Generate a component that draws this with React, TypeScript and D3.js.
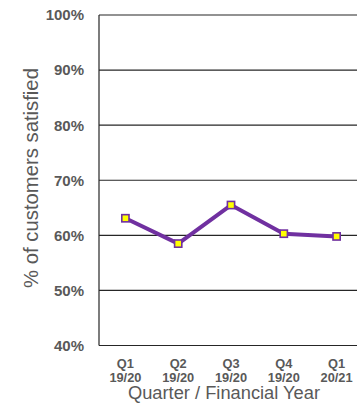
import React from "react";
import * as d3 from "d3";

const categories = ["Q1|19/20", "Q2|19/20", "Q3|19/20", "Q4|19/20", "Q1|20/21"];
const satisfied = [63.1, 58.5, 65.5, 60.3, 59.8];
const yTicks = [40, 50, 60, 70, 80, 90, 100];

const W = 357;
const H = 403;
const left = 99;
const right = 363;
const top = 15;
const bottom = 345.5;
const font = "'Liberation Sans', Arial, sans-serif";
const gray = "#595959";
const purple = "#7030A0";

export default function App() {
  const x = d3.scaleBand<string>().domain(categories).range([left, right]);
  const y = d3.scaleLinear().domain([40, 100]).range([bottom, top]);
  const line = d3
    .line<number>()
    .x((_, i) => (x(categories[i]) as number) + x.bandwidth() / 2)
    .y((d) => y(d));

  return (
    <svg
      width={W}
      height={H}
      style={{ position: "absolute", left: 0, top: 0, display: "block", background: "#fff" }}
    >
      {yTicks.map((t) => (
        <g key={t}>
          <line x1={left} x2={W} y1={y(t)} y2={y(t)} stroke="#262626" strokeWidth={1.2} />
          <text
            x={84}
            y={y(t)}
            dy="0.36em"
            textAnchor="end"
            fontFamily={font}
            fontSize={15}
            fontWeight="bold"
            fill={gray}
          >
            {t}%
          </text>
        </g>
      ))}
      <line x1={left} x2={left} y1={top} y2={bottom} stroke="#262626" strokeWidth={1.2} />
      {categories.map((c) => {
        const [q, fy] = c.split("|");
        const cx = (x(c) as number) + x.bandwidth() / 2;
        return (
          <text
            key={c}
            x={cx}
            textAnchor="middle"
            fontFamily={font}
            fontSize={12.8}
            fontWeight="bold"
            fill={gray}
          >
            <tspan x={cx} y={367.6}>
              {q}
            </tspan>
            <tspan x={cx} y={382.3}>
              {fy}
            </tspan>
          </text>
        );
      })}
      <path d={line(satisfied) || ""} fill="none" stroke={purple} strokeWidth={4} strokeLinejoin="round" />
      {satisfied.map((v, i) => {
        const cx = (x(categories[i]) as number) + x.bandwidth() / 2;
        return (
          <rect
            key={i}
            x={cx - 3.6}
            y={y(v) - 3.6}
            width={7.2}
            height={7.2}
            fill="#FFFF00"
            stroke={purple}
            strokeWidth={1.6}
          />
        );
      })}
      <text
        x={224}
        y={399.4}
        textAnchor="middle"
        fontFamily={font}
        fontSize={18.3}
        fill={gray}
      >
        Quarter / Financial Year
      </text>
      <text
        transform={`translate(37.5,178) rotate(-90)`}
        textAnchor="middle"
        fontFamily={font}
        fontSize={20.3}
        fill={gray}
      >
        % of customers satisfied
      </text>
    </svg>
  );
}
